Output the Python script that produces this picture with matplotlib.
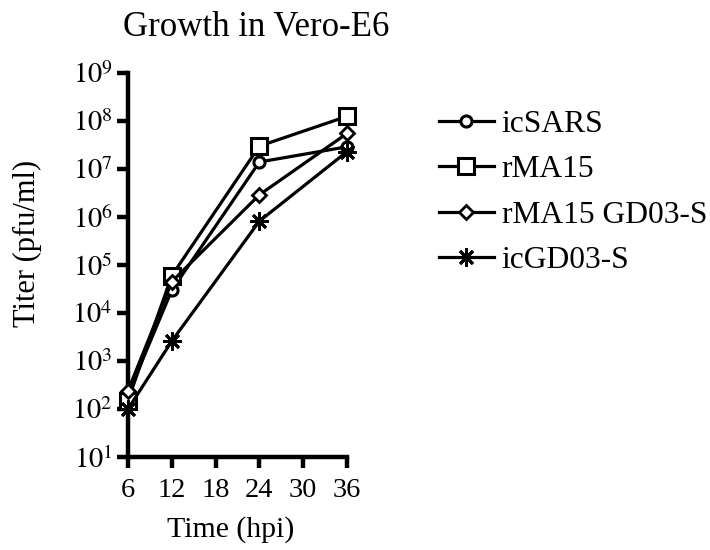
#!/usr/bin/env python3

import matplotlib
matplotlib.use("Agg")
import matplotlib.pyplot as plt
from matplotlib.ticker import FixedLocator, FixedFormatter, NullLocator

plt.rcParams["font.family"] = ["Liberation Serif", "DejaVu Serif"]
plt.rcParams["mathtext.fontset"] = "stix"

# Virus titers (pfu/ml) at each time point
hours = [6, 12, 24, 36]
series_names = ["icSARS", "rMA15", "rMA15 GD03-S", "icGD03-S"]
titer_icsars = [2.0e2, 3.0e4, 1.4e7, 2.9e7]
titer_rma15 = [1.5e2, 6.0e4, 3.0e7, 1.25e8]
titer_rma15_gd03 = [2.4e2, 4.5e4, 2.9e6, 5.5e7]
titer_icgd03 = [1.0e2, 2.6e3, 8.2e5, 2.3e7]

x_ticks = [6, 12, 18, 24, 30, 36]
y_exponents = list(range(1, 10))

W, H = 710, 550
fig = plt.figure(figsize=(W / 100, H / 100), dpi=100)
ax = fig.add_axes([128 / W, (H - 457) / H, 219 / W, 384 / H])

styles = [
    dict(marker="o", markersize=8, markeredgewidth=2.2),
    dict(marker="s", markersize=11.5, markeredgewidth=2.2),
    dict(marker="D", markersize=7.5, markeredgewidth=2.0),
    dict(marker=(8, 2, 0), markersize=13, markeredgewidth=2.0),
]
all_titers = [titer_icsars, titer_rma15, titer_rma15_gd03, titer_icgd03]

handles = []
for name, vals, st in zip(series_names, all_titers, styles):
    (ln,) = ax.plot(hours, vals, color="black", linewidth=2.3,
                    markerfacecolor="white", markeredgecolor="black",
                    clip_on=False, zorder=3, label=name, **st)
    handles.append(ln)

ax.set_yscale("log")
ax.set_ylim(10, 1e9)
ax.set_xlim(6, 36)

ax.yaxis.set_major_locator(FixedLocator([10.0 ** e for e in y_exponents]))
ax.yaxis.set_major_formatter(FixedFormatter([rf"$10^{{{e}}}$" for e in y_exponents]))
ax.yaxis.set_minor_locator(NullLocator())
ax.set_xticks(x_ticks)

for side in ["top", "right"]:
    ax.spines[side].set_visible(False)
for side in ["left", "bottom"]:
    ax.spines[side].set_linewidth(3.2)

ax.tick_params(axis="both", which="major", direction="out", length=8,
               width=3.2, color="black", labelsize=20.5)
ax.tick_params(axis="x", pad=7)
ax.tick_params(axis="y", pad=3)

fig.text(123 / W, 1 - 28 / H, "Growth in Vero-E6", fontsize=25,
         ha="left", va="center")
fig.text(231 / W, 1 - 530 / H, "Time (hpi)", fontsize=21.5,
         ha="center", va="center")
fig.text(27 / W, 1 - 243 / H, "Titer (pfu/ml)", fontsize=22,
         ha="center", va="center", rotation=90)

fig.legend(handles=handles, loc="upper left",
           bbox_to_anchor=(426 / W, 1 - 97 / H), frameon=False,
           fontsize=22.7, handlelength=1.75, handletextpad=0.25,
           labelspacing=0.52, borderaxespad=0)

fig.savefig("out.png", dpi=100)
